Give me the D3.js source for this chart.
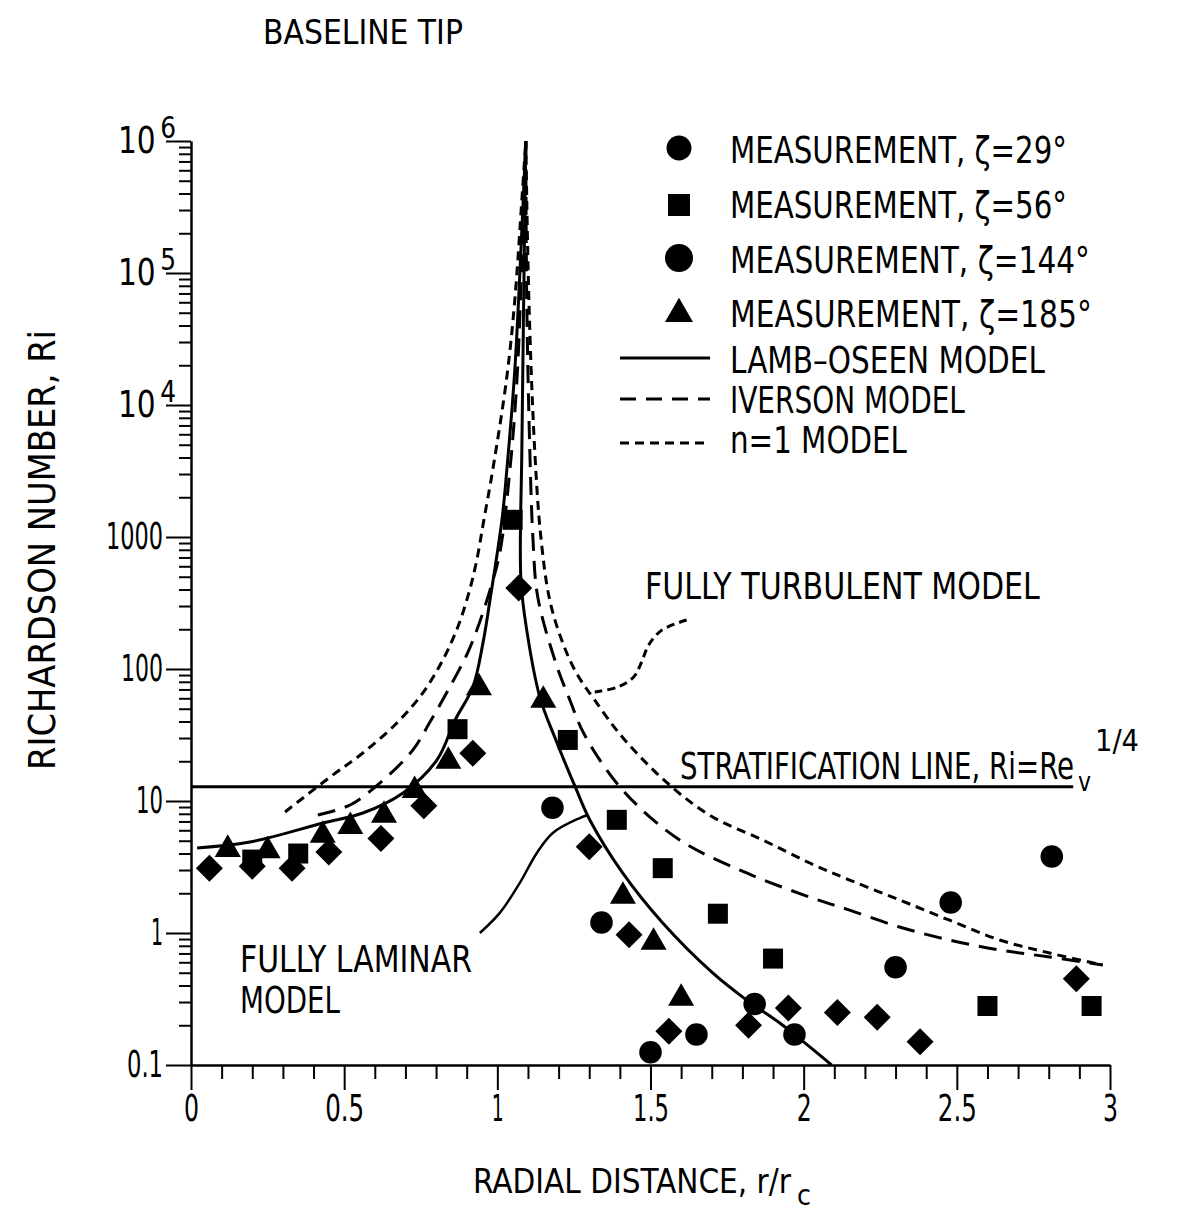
<!DOCTYPE html>
<html>
<head>
<meta charset="utf-8">
<script src="https://cdn.jsdelivr.net/npm/d3@7"></script>
<style>
  body { margin: 0; background: #fff; }
  text { font-family: 'Liberation Sans Narrow', 'Arial Narrow', 'DejaVu Sans Condensed', 'DejaVu Sans', sans-serif; fill: #000; }
</style>
</head>
<body>
<script>
// Canvas
const width = 1191;
const height = 1221;

// Axis ticks
const xTicks = [0, 0.5, 1, 1.5, 2, 2.5, 3];
const yTicks = [0.1, 1, 10, 100, 1000, 1e4, 1e5, 1e6];

// Measurements, [r/rc, Ri]
const zeta29 = [[0.06, 3.1], [0.2, 3.2], [0.33, 3.1], [0.45, 4.1], [0.62, 5.2], [0.76, 9.2], [0.92, 23], [1.07, 410],
  [1.3, 4.5], [1.43, 0.97], [1.56, 0.18], [1.82, 0.2], [1.95, 0.27], [2.11, 0.25], [2.24, 0.23], [2.38, 0.15], [2.89, 0.45]];
const zeta56 = [[0.2, 3.6], [0.35, 4.0], [0.87, 35], [1.05, 1350], [1.23, 29], [1.39, 7.2], [1.54, 3.1], [1.72, 1.4],
  [1.9, 0.64], [2.6, 0.28], [2.94, 0.28]];
const zeta144 = [[1.18, 8.9], [1.34, 1.2], [1.5, 0.125], [1.65, 0.17], [1.84, 0.29], [1.97, 0.17], [2.3, 0.55], [2.48, 1.7], [2.81, 3.8]];
const zeta185 = [[0.12, 4.3], [0.25, 4.2], [0.43, 5.5], [0.52, 6.4], [0.63, 7.8], [0.73, 12], [0.84, 20], [0.94, 72],
  [1.15, 58], [1.41, 1.9], [1.51, 0.85], [1.6, 0.32]];

// Model curves, [r/rc, Ri], one array per branch
const lambOseenLeft = [[0.02, 4.41], [0.192, 4.89], [0.431, 6.81], [0.561, 8.11], [0.692, 11.5], [0.803, 20.5], [0.862, 41],
  [0.92, 73], [0.953, 157], [0.976, 333], [1.015, 1345], [1.031, 3220], [1.057, 18400], [1.077, 149000], [1.093, 1e6]];
const lambOseenRight = [[1.093, 1e6], [1.086, 62400], [1.08, 4560], [1.077, 472], [1.096, 197], [1.139, 61], [1.191, 29],
  [1.256, 12.5], [1.302, 7.18], [1.409, 2.85], [1.54, 1.19], [1.703, 0.498], [1.814, 0.31], [1.922, 0.208],
  [2.02, 0.137], [2.091, 0.1]];
const iversonLeft = [[0.414, 7.83], [0.519, 9.33], [0.617, 13.7], [0.724, 24.3], [0.78, 39.6], [0.845, 73], [0.9, 128],
  [0.933, 197], [0.976, 396], [1.008, 757], [1.041, 3220], [1.064, 15500], [1.08, 125000], [1.093, 1e6]];
const iversonRight = [[1.093, 1e6], [1.096, 62400], [1.106, 4560], [1.116, 1000], [1.132, 351], [1.191, 111], [1.237, 58],
  [1.285, 31.6], [1.409, 12.1], [1.595, 5.07], [1.814, 2.85], [2.02, 1.87], [2.15, 1.49], [2.313, 1.11], [2.476, 0.885],
  [2.64, 0.743], [2.803, 0.658], [2.976, 0.573]];
const n1Left = [[0.307, 8.26], [0.454, 15.2], [0.561, 23.1], [0.672, 39], [0.757, 66], [0.822, 117], [0.871, 208],
  [0.907, 377], [0.933, 670], [0.956, 1345], [0.985, 3220], [1.031, 16300], [1.057, 62400], [1.08, 357000], [1.093, 1e6]];
const n1Right = [[1.093, 1e6], [1.103, 62400], [1.122, 4560], [1.142, 1000], [1.171, 333], [1.21, 166], [1.256, 95],
  [1.318, 58], [1.416, 29], [1.569, 12.8], [1.703, 7.57], [1.866, 5.07], [2.02, 3.39], [2.15, 2.52], [2.313, 1.78],
  [2.476, 1.25], [2.64, 0.885], [2.803, 0.705], [2.976, 0.573]];

// Stratification line Ri = Re_v^(1/4)
const stratRi = 12.8;
const stratExtent = [0, 2.88];

// Annotation leaders
const laminarLeader = [[0.943, 1.0], [1.008, 1.42], [1.073, 2.39], [1.129, 4.04], [1.181, 5.73], [1.269, 7.43], [1.295, 7.83]];
const turbulentLeader = [[1.618, 235], [1.537, 197], [1.494, 152], [1.471, 113], [1.445, 87], [1.393, 73], [1.318, 67]];

const svg = d3.select('body')
  .append('svg')
  .attr('width', width)
  .attr('height', height);

svg.append('rect').attr('width', width).attr('height', height).attr('fill', '#fff');

const x = d3.scaleLinear().domain([0, 3]).range([191, 1110]);
const y = d3.scaleLog().domain([0.1, 1e6]).range([1065, 141]);

// text squeezed to a given width with a horizontal scale
function label(str, tx, ty, size, len, rot) {
  const t = svg.append('text')
    .attr('font-size', size)
    .text(str);
  const sx = len ? len / t.node().getComputedTextLength() : 1;
  t.attr('transform', `translate(${tx},${ty})${rot ? ' rotate(' + rot + ')' : ''} scale(${sx},1)`);
  return t;
}

// width of a tick label in the narrow lettering
const tickWidth = s => s.split('').reduce((w, c) => w + (c === '.' ? 9 : c === '1' ? 12 : 15), 0);

// Axes
const yMinor = [];
yTicks.slice(0, -1).forEach(d => { for (let k = 2; k <= 9; k++) yMinor.push(d * k); });
const xMinor = d3.range(0, 31).map(i => i / 10).filter(v => Math.abs(v * 2 - Math.round(v * 2)) > 1e-6);

const gyMinor = svg.append('g')
  .attr('transform', 'translate(191,0)')
  .call(d3.axisLeft(y).tickValues(yMinor).tickSize(12).tickFormat(''));
gyMinor.select('.domain').remove();

const gy = svg.append('g')
  .attr('transform', 'translate(191,0)')
  .call(d3.axisLeft(y).tickValues(yTicks).tickSize(25).tickSizeOuter(0).tickPadding(3)
    .tickFormat(d => d >= 1e4 ? '10' : String(d)));

gy.selectAll('.tick text').each(function(d) {
  const t = d3.select(this);
  if (d >= 1e4) {
    t.attr('x', -15);
    t.append('tspan')
      .attr('dx', 5)
      .attr('dy', -15)
      .attr('font-size', 31)
      .text(Math.round(Math.log10(d)));
    t.attr('textLength', 58).attr('lengthAdjust', 'spacingAndGlyphs');
  } else {
    t.attr('textLength', tickWidth(String(d))).attr('lengthAdjust', 'spacingAndGlyphs');
  }
});

const gxMinor = svg.append('g')
  .attr('transform', 'translate(0,1065)')
  .call(d3.axisBottom(x).tickValues(xMinor).tickSize(14).tickFormat(''));
gxMinor.select('.domain').remove();

const gx = svg.append('g')
  .attr('transform', 'translate(0,1065)')
  .call(d3.axisBottom(x).tickValues(xTicks).tickSize(25).tickSizeOuter(0).tickPadding(5).tickFormat(d3.format('')));

gx.selectAll('.tick text').each(function(d) {
  d3.select(this).attr('textLength', tickWidth(String(d))).attr('lengthAdjust', 'spacingAndGlyphs');
});

[gy, gx, gyMinor, gxMinor].forEach(g => {
  g.attr('font-family', null).attr('font-size', 37);
  g.selectAll('line').attr('stroke', '#000').attr('stroke-width', 2);
  g.selectAll('.domain').attr('stroke', '#000').attr('stroke-width', 2.5);
});

// Stratification line
svg.append('line')
  .attr('x1', x(stratExtent[0]))
  .attr('x2', x(stratExtent[1]))
  .attr('y1', y(stratRi))
  .attr('y2', y(stratRi))
  .attr('stroke', '#000')
  .attr('stroke-width', 3);

// Model curves
const line = d3.line()
  .x(d => x(d[0]))
  .y(d => y(d[1]))
  .curve(d3.curveCatmullRom.alpha(0.5));

const models = [
  { data: lambOseenLeft, dash: null },
  { data: lambOseenRight, dash: null },
  { data: iversonLeft, dash: '18,10' },
  { data: iversonRight, dash: '18,10' },
  { data: n1Left, dash: '9,6' },
  { data: n1Right, dash: '9,6' }
];

svg.selectAll('.model')
  .data(models)
  .enter()
  .append('path')
  .attr('class', 'model')
  .attr('d', d => line(d.data))
  .attr('fill', 'none')
  .attr('stroke', '#000')
  .attr('stroke-width', 3)
  .attr('stroke-dasharray', d => d.dash);

// Leaders
svg.append('path')
  .attr('d', line(laminarLeader))
  .attr('fill', 'none')
  .attr('stroke', '#000')
  .attr('stroke-width', 2.5);

svg.append('path')
  .attr('d', line(turbulentLeader))
  .attr('fill', 'none')
  .attr('stroke', '#000')
  .attr('stroke-width', 3)
  .attr('stroke-dasharray', '8,5');

// Measurement markers
const series = [
  { data: zeta29, type: d3.symbolSquare, size: 364, rotate: 45 },
  { data: zeta56, type: d3.symbolSquare, size: 400, rotate: 0 },
  { data: zeta144, type: d3.symbolCircle, size: 400, rotate: 0 },
  { data: zeta185, type: d3.symbolTriangle, size: 293, rotate: 0 }
];

series.forEach(s => {
  svg.append('g')
    .selectAll('path')
    .data(s.data)
    .enter()
    .append('path')
    .attr('d', d3.symbol().type(s.type).size(s.size))
    .attr('transform', d => `translate(${x(d[0])},${y(d[1])}) rotate(${s.rotate})`)
    .attr('fill', '#000');
});

// Legend
const legendMarkers = [
  { type: d3.symbolCircle, size: 490, cy: 148 },
  { type: d3.symbolSquare, size: 484, cy: 205 },
  { type: d3.symbolCircle, size: 615, cy: 258 },
  { type: d3.symbolTriangle, size: 340, cy: 314 }
];
legendMarkers.forEach(m => {
  svg.append('path')
    .attr('d', d3.symbol().type(m.type).size(m.size))
    .attr('transform', `translate(679,${m.cy})`)
    .attr('fill', '#000');
});

const legendLines = [
  { ly: 358, dash: null },
  { ly: 399, dash: '16,10' },
  { ly: 443, dash: '9,6' }
];
legendLines.forEach(l => {
  svg.append('line')
    .attr('x1', 620).attr('x2', 710)
    .attr('y1', l.ly).attr('y2', l.ly)
    .attr('stroke', '#000')
    .attr('stroke-width', 3)
    .attr('stroke-dasharray', l.dash);
});

label('MEASUREMENT, \u03B6=29\u00B0', 730, 163, 38, 337);
label('MEASUREMENT, \u03B6=56\u00B0', 730, 218, 38, 337);
label('MEASUREMENT, \u03B6=144\u00B0', 730, 273, 38, 360);
label('MEASUREMENT, \u03B6=185\u00B0', 730, 327, 38, 362);
label('LAMB\u2013OSEEN MODEL', 730, 373, 38, 315);
label('IVERSON MODEL', 730, 413, 38, 235);
label('n=1 MODEL', 730, 453, 38, 177);

// Titles and annotations
label('BASELINE TIP', 263, 44, 33, 200);
label('FULLY TURBULENT MODEL', 645, 599, 37, 395);
label('FULLY LAMINAR', 240, 972, 37, 232);
label('MODEL', 240, 1013, 37, 100);

label('STRATIFICATION LINE, Ri=Re', 680, 779, 37, 394);
label('v', 1078, 791, 27, 13);
label('1/4', 1095, 751, 30, 44);

label('RADIAL DISTANCE, r/r', 473, 1193, 34, 318);
label('c', 797, 1205, 29, 14);

label('RICHARDSON NUMBER, Ri', 55, 770, 37, 440, -90);
</script>
</body>
</html>
